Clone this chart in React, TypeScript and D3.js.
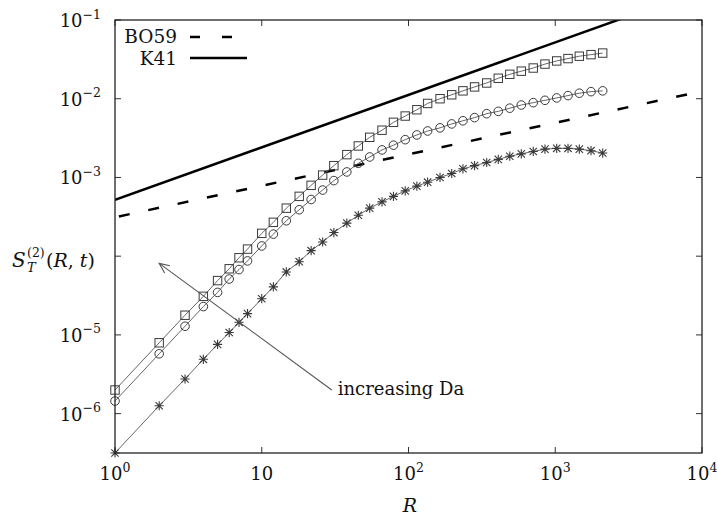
import React from 'react';
import * as d3 from 'd3';

// ---- data ----
const rValues = [1, 2, 3, 4, 5, 6, 7, 8, 10, 12, 14.7, 18, 21.7, 26, 31, 38, 45.5, 54.4, 66, 79, 95, 114, 135, 164, 197, 235, 282, 341, 409, 490, 587, 708, 851, 1023, 1222, 1459, 1753, 2105];
const squareLog10 = [-5.70, -5.10, -4.75, -4.51, -4.31, -4.16, -4.02, -3.91, -3.71, -3.57, -3.39, -3.24, -3.10, -2.97, -2.85, -2.71, -2.60, -2.49, -2.40, -2.30, -2.22, -2.14, -2.06, -2.00, -1.95, -1.90, -1.85, -1.80, -1.74, -1.69, -1.65, -1.61, -1.56, -1.52, -1.49, -1.46, -1.44, -1.42];
const circleLog10 = [-5.84, -5.24, -4.89, -4.64, -4.46, -4.29, -4.17, -4.06, -3.87, -3.72, -3.55, -3.41, -3.28, -3.16, -3.04, -2.93, -2.82, -2.74, -2.65, -2.59, -2.52, -2.46, -2.41, -2.37, -2.32, -2.28, -2.24, -2.19, -2.16, -2.12, -2.08, -2.05, -2.02, -1.99, -1.96, -1.93, -1.91, -1.90];
const starLog10 = [-6.50, -5.90, -5.56, -5.31, -5.12, -4.97, -4.84, -4.73, -4.54, -4.39, -4.20, -4.07, -3.93, -3.82, -3.70, -3.58, -3.48, -3.39, -3.31, -3.24, -3.17, -3.11, -3.06, -3.00, -2.95, -2.89, -2.85, -2.81, -2.77, -2.73, -2.70, -2.67, -2.64, -2.63, -2.63, -2.64, -2.66, -2.69];

const k41R = [1, 10000];
const k41S = [5.2e-4, 0.241];
const bo59R = [1, 10000];
const bo59S = [3.12e-4, 0.01243];

const xTicks = [1, 10, 100, 1000, 10000];
const xTickBase = ['10', '10', '10', '10', '10'];
const xTickExp = ['0', '', '2', '3', '4'];
const yTicks = [1e-1, 1e-2, 1e-3, 1e-4, 1e-5, 1e-6];
const yTickExp = ['−1', '−2', '−3', '', '−5', '−6'];

const arrowFrom = [30, 2.0e-6];
const arrowTo = [2, 8.1e-5];
const annotation = 'increasing Da';

const legendLabels = ['BO59', 'K41'];

// ---- layout ----
const W = 717;
const H = 518;
const left = 115, right = 702, top = 20, bottom = 453;
const FONT = '"DejaVu Serif", "Liberation Serif", serif';

export default function App() {
  const x = d3.scaleLog().domain([1, 1e4]).range([left, right]);
  const y = d3.scaleLog().domain([Math.pow(10, -6.5), 0.1]).range([bottom, top]);

  const line = d3.line<[number, number]>().x(d => x(d[0])).y(d => y(d[1]));

  const mk = (logs: number[]) => rValues.map((r, i) => [r, Math.pow(10, logs[i])] as [number, number]);
  const sq = mk(squareLog10);
  const ci = mk(circleLog10);
  const st = mk(starLog10);

  const k41 = k41R.map((r, i) => [r, k41S[i]] as [number, number]);
  const bo59 = bo59R.map((r, i) => [r, bo59S[i]] as [number, number]);

  const ax0 = x(arrowFrom[0]), ay0 = y(arrowFrom[1]);
  const ax1 = x(arrowTo[0]), ay1 = y(arrowTo[1]);
  const ang = Math.atan2(ay1 - ay0, ax1 - ax0);
  const hl = 11, ha = (24 * Math.PI) / 180;
  const h1 = [ax1 - hl * Math.cos(ang - ha), ay1 - hl * Math.sin(ang - ha)];
  const h2 = [ax1 - hl * Math.cos(ang + ha), ay1 - hl * Math.sin(ang + ha)];

  const dataStroke = '#555';
  const markStroke = '#3a3a3a';
  const tickLen = 6;

  return (
    <svg width={W} height={H} style={{ position: 'absolute', left: 0, top: 0, background: '#fff' }} fontFamily={FONT}>
      <defs>
        <clipPath id="plotclip">
          <rect x={left} y={top} width={right - left} height={bottom - top} />
        </clipPath>
      </defs>

      {/* ticks */}
      {xTicks.map((t, i) => (
        <g key={'xt' + i}>
          <line x1={x(t)} x2={x(t)} y1={bottom} y2={bottom - tickLen} stroke="#333" strokeWidth={1} />
          <line x1={x(t)} x2={x(t)} y1={top} y2={top + tickLen} stroke="#333" strokeWidth={1} />
          <text x={x(t)} y={480} textAnchor="middle" fontSize={18} fill="#111">
            <tspan>{xTickBase[i]}</tspan>
            {xTickExp[i] && <tspan dy={-8} fontSize={12.5}>{xTickExp[i]}</tspan>}
          </text>
        </g>
      ))}
      {yTicks.map((t, i) => (
        <g key={'yt' + i}>
          <line x1={left} x2={left + tickLen} y1={y(t)} y2={y(t)} stroke="#333" strokeWidth={1} />
          <line x1={right} x2={right - tickLen} y1={y(t)} y2={y(t)} stroke="#333" strokeWidth={1} />
          {yTickExp[i] && (
            <text x={101} y={y(t) + 7} textAnchor="end" fontSize={18} fill="#111">
              <tspan>10</tspan>
              <tspan dy={-8.5} fontSize={12.5}>{yTickExp[i]}</tspan>
            </text>
          )}
        </g>
      ))}

      {/* reference power laws */}
      <g clipPath="url(#plotclip)">
        <path d={line(k41) || ''} fill="none" stroke="#000" strokeWidth={2.5} />
        <path d={line(bo59) || ''} fill="none" stroke="#000" strokeWidth={2.5} strokeDasharray="11,19" strokeDashoffset={-4} />
      </g>

      {/* data lines */}
      <path d={line(sq) || ''} fill="none" stroke={dataStroke} strokeWidth={0.9} />
      <path d={line(ci) || ''} fill="none" stroke={dataStroke} strokeWidth={0.9} />
      <path d={line(st) || ''} fill="none" stroke={dataStroke} strokeWidth={0.9} />

      {/* markers */}
      {sq.map((d, i) => (
        <rect key={'s' + i} x={x(d[0]) - 4.2} y={y(d[1]) - 4.2} width={8.4} height={8.4} fill="none" stroke={markStroke} strokeWidth={1} />
      ))}
      {ci.map((d, i) => (
        <circle key={'c' + i} cx={x(d[0])} cy={y(d[1])} r={4.3} fill="none" stroke={markStroke} strokeWidth={1} />
      ))}
      {st.map((d, i) => {
        const cx = x(d[0]), cy = y(d[1]), s = 4.6;
        return (
          <path key={'t' + i}
            d={`M${cx - s},${cy}L${cx + s},${cy}M${cx},${cy - s}L${cx},${cy + s}M${cx - s * 0.8},${cy - s * 0.8}L${cx + s * 0.8},${cy + s * 0.8}M${cx - s * 0.8},${cy + s * 0.8}L${cx + s * 0.8},${cy - s * 0.8}`}
            fill="none" stroke={markStroke} strokeWidth={1.1} />
        );
      })}

      {/* frame */}
      <rect x={left} y={top} width={right - left} height={bottom - top} fill="none" stroke="#222" strokeWidth={1.3} />

      {/* legend */}
      <text x={177} y={43} textAnchor="end" fontSize={18.5} fill="#111">{legendLabels[0]}</text>
      <line x1={190} x2={234} y1={37} y2={37} stroke="#000" strokeWidth={2.5} strokeDasharray="10,22" />
      <text x={177} y={65} textAnchor="end" fontSize={18.5} fill="#111">{legendLabels[1]}</text>
      <line x1={190} x2={247} y1={58} y2={58} stroke="#000" strokeWidth={2.5} />

      {/* arrow annotation */}
      <line x1={ax0} y1={ay0} x2={ax1} y2={ay1} stroke="#555" strokeWidth={1.1} />
      <polyline points={`${h1[0]},${h1[1]} ${ax1},${ay1} ${h2[0]},${h2[1]}`} fill="none" stroke="#555" strokeWidth={1.1} />
      <text x={ax0 + 6} y={ay0 + 5} fontSize={18} fill="#111">{annotation}</text>

      {/* axis labels */}
      <text x={410} y={512} textAnchor="middle" fontSize={19} fontStyle="italic" fill="#111">R</text>
      <g fill="#111">
        <text x={12} y={267} fontSize={20} fontStyle="italic">S</text>
        <text x={27} y={272} fontSize={13} fontStyle="italic">T</text>
        <text x={27} y={257} fontSize={12.5}>(2)</text>
        <text x={46} y={267} fontSize={19}>
          <tspan>(</tspan>
          <tspan fontStyle="italic">R</tspan>
          <tspan>, </tspan>
          <tspan fontStyle="italic">t</tspan>
          <tspan>)</tspan>
        </text>
      </g>
    </svg>
  );
}
